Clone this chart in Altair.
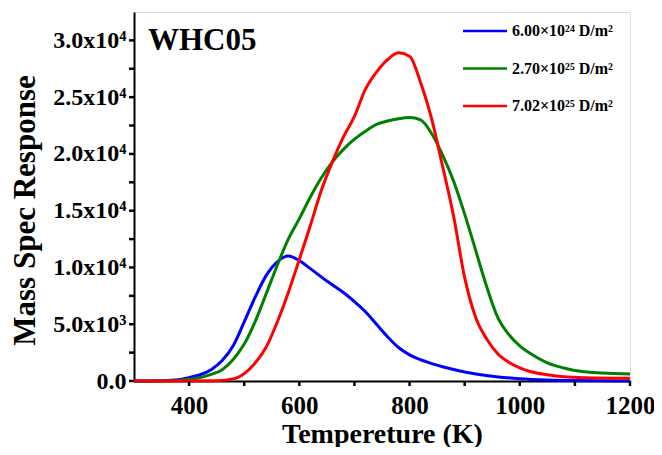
import altair as alt
import pandas as pd

# ---------------- data ----------------
series_names = ["6.00×10²⁴ D/m²", "2.70×10²⁵ D/m²", "7.02×10²⁵ D/m²"]
series_colors = ["#0000ff", "#008000", "#ff0000"]

blue_T = [300, 350, 380, 400, 420, 440, 460, 480, 500, 520, 540, 560, 580, 600, 620, 650, 680, 700,
          720, 740, 760, 780, 800, 830, 860, 900, 950, 1000, 1050, 1100, 1150, 1200]
blue_v = [0, 30, 100, 300, 550, 1000, 1800, 3100, 5200, 7400, 9300, 10500, 11000, 10600, 9900, 8800,
          7800, 7000, 6100, 5000, 3900, 2950, 2300, 1700, 1250, 800, 420, 200, 90, 40, 20, 10]

green_T = [300, 380, 400, 420, 440, 460, 480, 500, 520, 540, 560, 580, 600, 620, 640, 660, 680, 700,
           720, 740, 760, 780, 800, 820, 840, 860, 880, 900, 920, 940, 960, 980, 1000, 1020, 1050,
           1080, 1110, 1150, 1200]
green_v = [0, 50, 150, 300, 580, 1000, 1900, 3250, 5250, 7700, 10200, 12500, 14300, 16200, 17900,
           19300, 20400, 21300, 22000, 22600, 22900, 23100, 23200, 23000, 21800, 19900, 17600, 14700,
           11500, 8300, 5600, 4100, 3100, 2400, 1600, 1150, 850, 700, 620]

red_T = [300, 450, 470, 490, 500, 520, 540, 560, 580, 600, 620, 640, 660, 680, 700, 720, 740, 760,
         780, 800, 820, 840, 860, 880, 900, 920, 940, 960, 980, 1000, 1020, 1050, 1080, 1120, 1200]
red_v = [0, 30, 100, 350, 650, 1600, 3000, 5200, 7800, 10700, 13700, 16800, 19300, 21500, 23300,
         25700, 27200, 28300, 28900, 28600, 26300, 23100, 18900, 14500, 9100, 5600, 3700, 2400,
         1650, 1150, 820, 560, 380, 290, 240]

x_ticks = [400, 500, 600, 700, 800, 900, 1000, 1100, 1200]
x_labeled = [400, 600, 800, 1000, 1200]
y_ticks = [0, 2500, 5000, 7500, 10000, 12500, 15000, 17500, 20000, 22500, 25000, 27500, 30000]
y_labeled = [0, 5000, 10000, 15000, 20000, 25000, 30000]
y_labels = ["0.0", "5.0x10³", "1.0x10⁴", "1.5x10⁴", "2.0x10⁴", "2.5x10⁴", "3.0x10⁴"]

panel_title = "WHC05"
x_title = "Tempereture (K)"
y_title = "Mass Spec Response"

# ---------------- build table ----------------
rows = []
for name, Ts, vs in zip(series_names, [blue_T, green_T, red_T], [blue_v, green_v, red_v]):
    for t, v in zip(Ts, vs):
        rows.append({"series": name, "T": t, "v": v})
df = pd.DataFrame(rows)

FONT = "Liberation Serif"
W, H = 496, 369
TICK = 5

y_expr = " : ".join(f"datum.value == {v} ? '{l}'" for v, l in zip(y_labeled, y_labels)) + " : ''"
x_expr = " : ".join(f"datum.value == {v} ? '{v}'" for v in x_labeled) + " : ''"

x_axis = alt.Axis(values=x_ticks, labelExpr=x_expr, grid=False, ticks=False,
                  domainColor="black", domainWidth=2,
                  labelFont=FONT, labelFontSize=25, labelFontWeight="bold", labelColor="black",
                  labelPadding=TICK + 7, labelFlush=False,
                  title=x_title, titleFont=FONT, titleFontSize=28, titleFontWeight="bold",
                  titleColor="black", titleX=W / 2, titleY=61, titleAlign="center",
                  titleBaseline="alphabetic")
y_axis = alt.Axis(values=y_ticks, labelExpr=y_expr, grid=False, ticks=False,
                  domainColor="black", domainWidth=2,
                  labelFont=FONT, labelFontSize=24, labelFontWeight="bold", labelColor="black",
                  labelPadding=TICK + 3, labelFlush=False,
                  title=y_title, titleFont=FONT, titleFontSize=31, titleFontWeight="bold",
                  titleColor="black", titleX=-100, titleY=198, titleAngle=270,
                  titleAlign="center", titleBaseline="alphabetic")

x_scale = alt.Scale(domain=[300, 1200], nice=False, zero=False)
y_scale = alt.Scale(domain=[0, 32500], nice=False)

lines = alt.Chart(df).mark_line(strokeWidth=3, interpolate="monotone").encode(
    x=alt.X("T:Q", scale=x_scale, axis=x_axis),
    y=alt.Y("v:Q", scale=y_scale, axis=y_axis),
    color=alt.Color("series:N", scale=alt.Scale(domain=series_names, range=series_colors),
                    legend=None),
)

layers = [lines]

# outward tick marks drawn through the shared scales
layers.append(
    alt.Chart(pd.DataFrame({"v": y_ticks})).mark_rule(color="black", strokeWidth=2.5).encode(
        y=alt.Y("v:Q", scale=y_scale), x=alt.value(-TICK), x2=alt.value(0))
)
layers.append(
    alt.Chart(pd.DataFrame({"T": x_ticks})).mark_rule(color="black", strokeWidth=2.5).encode(
        x=alt.X("T:Q", scale=x_scale), y=alt.value(H), y2=alt.value(H + TICK))
)

# title text inside plot
layers.append(
    alt.Chart(pd.DataFrame({"t": [panel_title]})).mark_text(
        font=FONT, fontSize=31, fontWeight="bold", align="left", baseline="alphabetic",
        color="black"
    ).encode(x=alt.value(14), y=alt.value(38), text="t:N")
)

# legend drawn manually
leg_y = [19, 56.5, 94]
for name, col, yy in zip(series_names, series_colors, leg_y):
    d = pd.DataFrame({"t": [name]})
    layers.append(
        alt.Chart(d).mark_rule(color=col, strokeWidth=2.5).encode(
            x=alt.value(329), x2=alt.value(373), y=alt.value(yy))
    )
    layers.append(
        alt.Chart(d).mark_text(font=FONT, fontSize=16, fontWeight="bold", align="left",
                               baseline="middle", color="black").encode(
            x=alt.value(378), y=alt.value(yy), text="t:N")
    )

chart = alt.layer(*layers).properties(
    width=W, height=H,
    autosize=alt.AutoSizeParams(type="none"),
    padding={"left": 126, "top": 4, "right": 24, "bottom": 66},
).configure_view(stroke="black", strokeWidth=2).configure(background="white")

chart.save("out.html", embed_options={"renderer": "svg", "actions": False})
